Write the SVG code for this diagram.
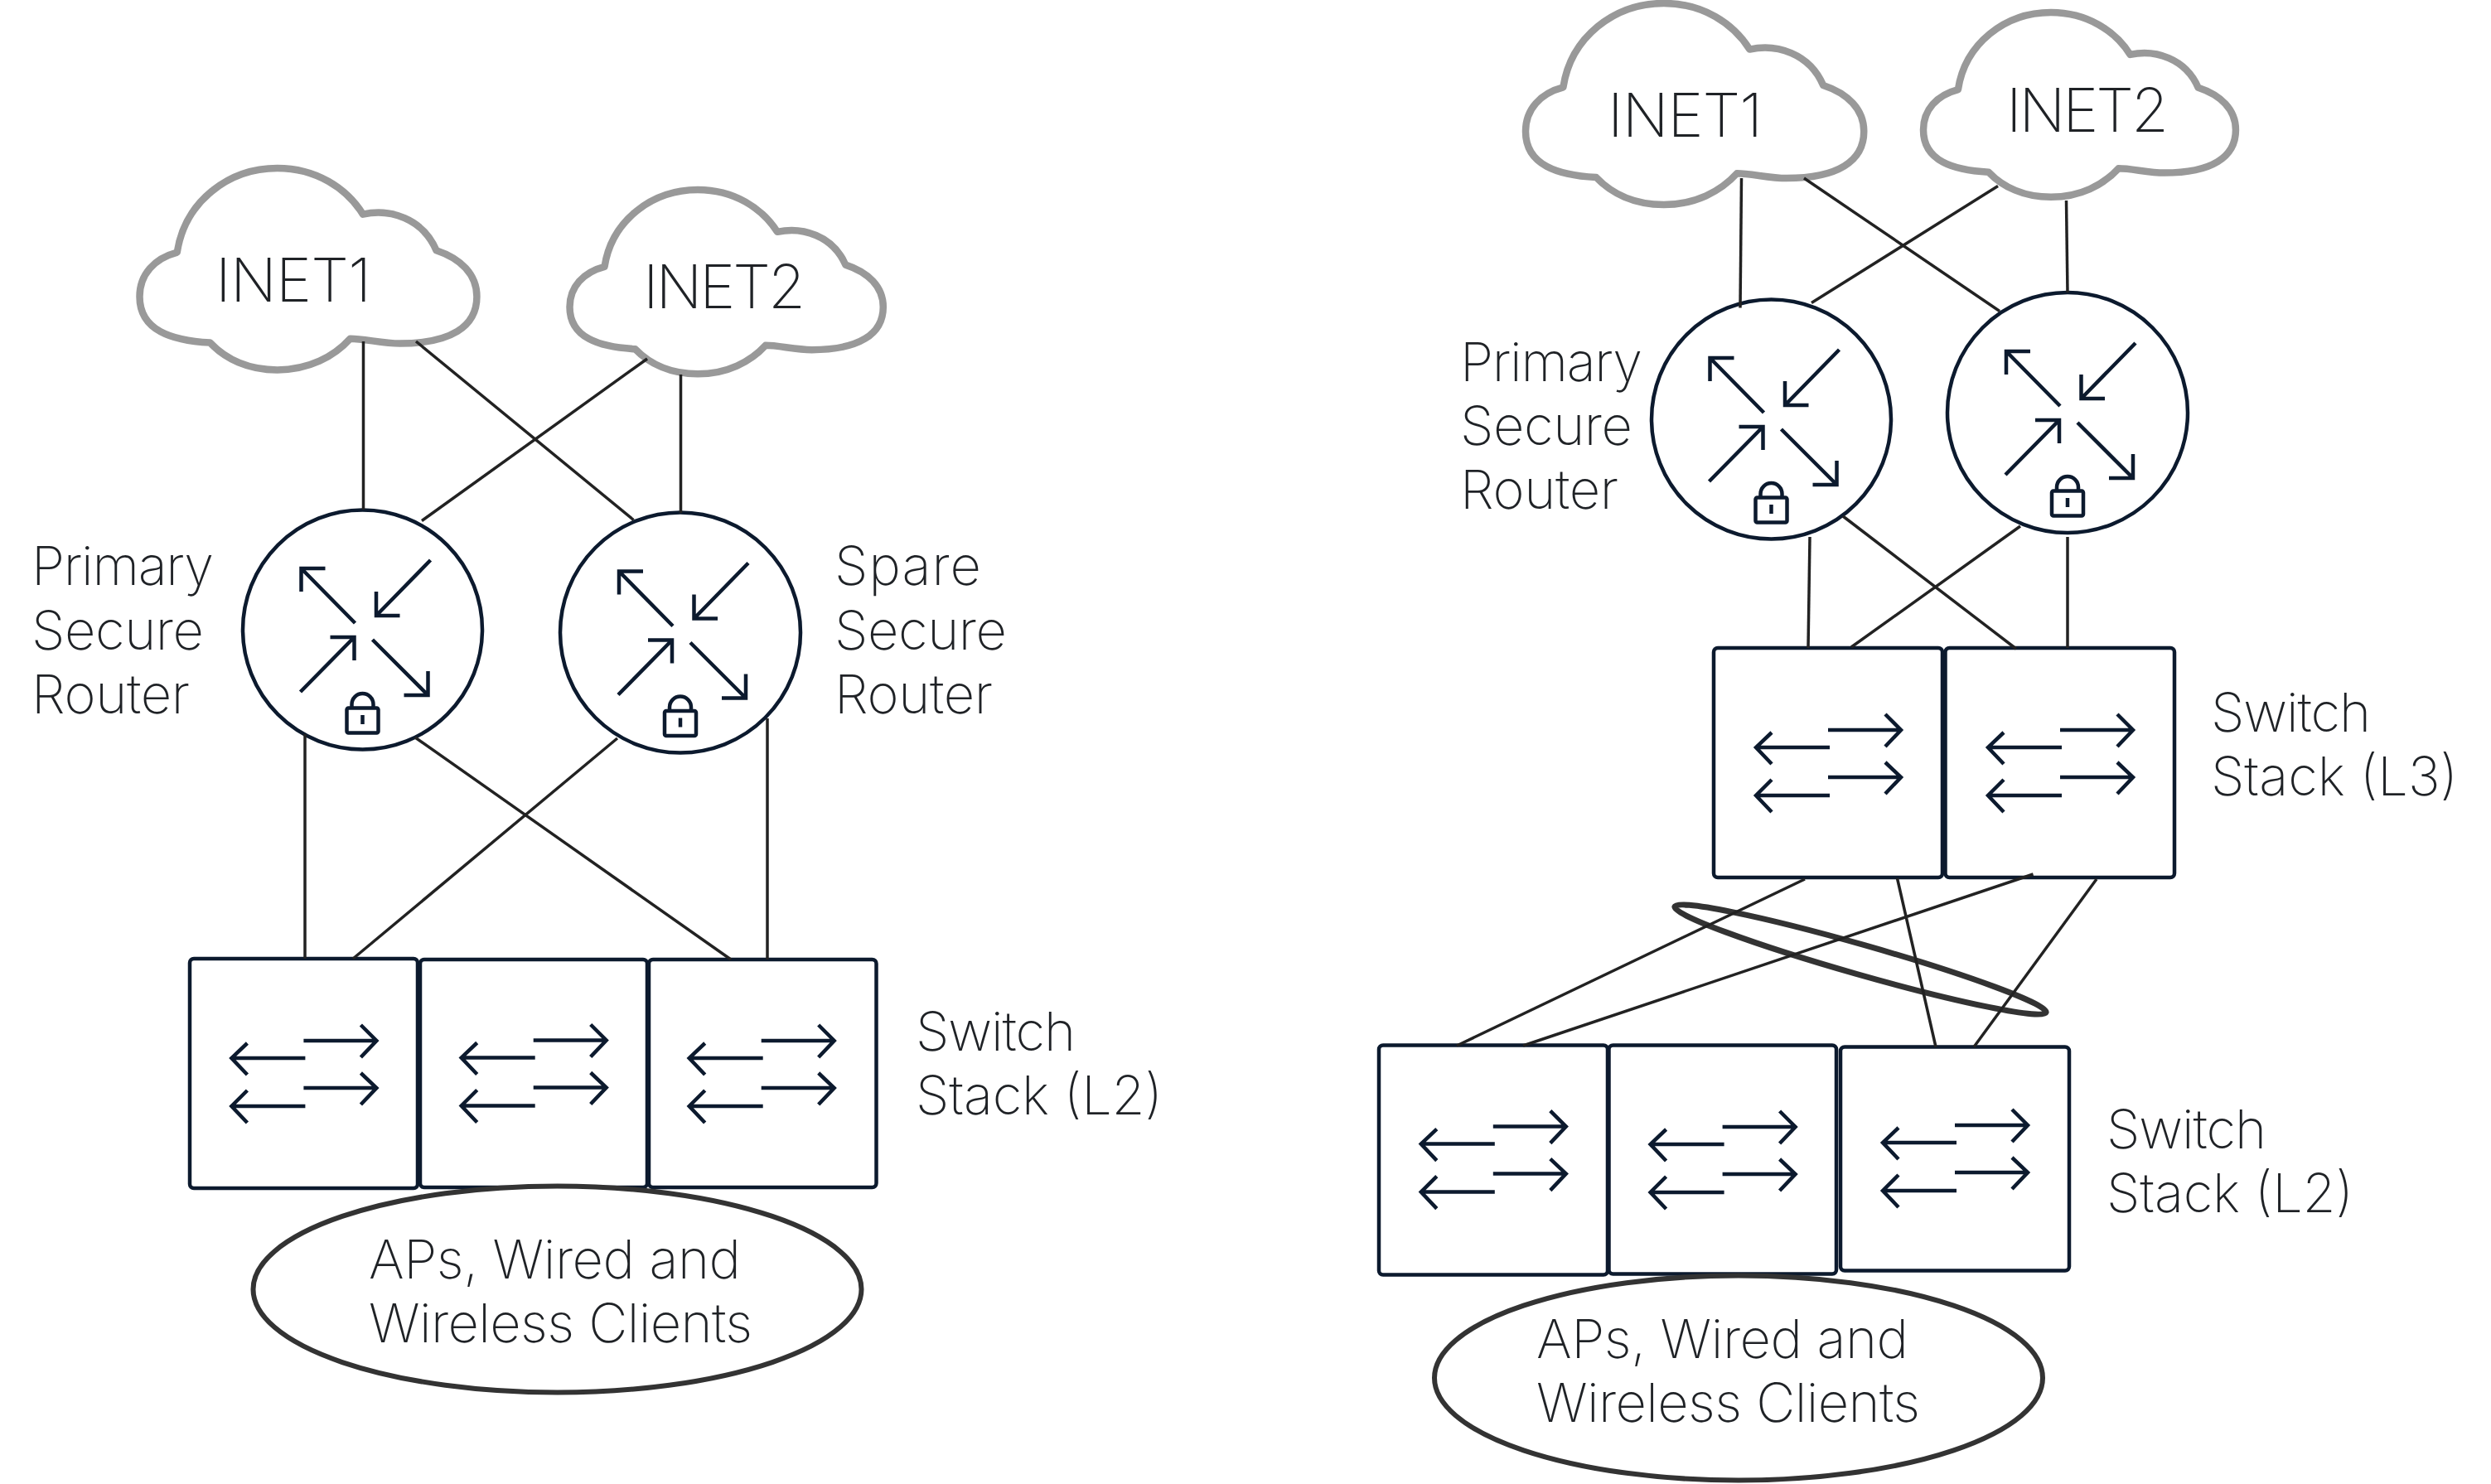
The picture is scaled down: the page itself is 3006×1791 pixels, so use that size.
<svg xmlns="http://www.w3.org/2000/svg" width="3006" height="1791" viewBox="0 0 3006 1791">
<style>
text{font-family:"Inter","Roboto","Liberation Sans",sans-serif;font-weight:250;font-size:65px;fill:#1f2226}
.big{font-size:73px}
.cloud{fill:#fff;stroke:#999;stroke-width:8.500;stroke-linejoin:round;vector-effect:non-scaling-stroke}
.rt{fill:#fff;stroke:#0c1a2e;stroke-width:4.500}
.sw{fill:#fff;stroke:#0c1a2e;stroke-width:4.500}
.ic{fill:none;stroke:#0c1a2e;stroke-width:4.500}
.ell{fill:#fff;stroke:#333;stroke-width:6}
.lag{fill:none;stroke:#333;stroke-width:7}
.cn line{stroke:#222;stroke-width:3.500}
</style>
<defs>
<path id="cloudp" class="cloud" d="M120 255C135 130 220 45 318 45C395 45 455 95 487 160C540 145 605 170 632 250C680 270 712 310 712 365C712 440 660 482 560 482C525 482 490 470 462 470C430 515 380 548 318 548C260 548 215 520 185 480C110 475 46 450 46 365C46 310 75 270 120 255Z"/>
<g id="routerIcon" class="ic">
<path d="M-9-8L-74-74M-74-46V-74H-45"/>
<path d="M82-84L16.500-17M16.500-46V-17H45"/>
<path d="M-75 75L-10 9M-39 9H-10V37"/>
<path d="M12 12L79 79M79 50V79H50"/>
<rect x="-19" y="94.500" width="38" height="30" rx="2"/>
<path d="M-13 94.500V90A13 13 0 0 1 13 90V94.500M0 103V114"/>
</g>
<g id="switchIcon" class="ic">
<path d="M0-40H88M69-59L88-40L69-20"/>
<path d="M2-19H-87M-68-37L-87-19L-68 1"/>
<path d="M0 17H88M69-1L88 17L69 37"/>
<path d="M2 39H-87M-68 20L-87 39L-68 59"/>
</g>
</defs>
<rect width="3006" height="1791" fill="#fff"/>

<g id="left-inet1"><use href="#cloudp" transform="translate(168.500 203) scale(0.611 0.484) translate(-46 -45)"/><text x="260" y="364" class="big" textLength="188">INET1</text></g>
<g id="left-inet2"><use href="#cloudp" transform="translate(687.500 229) scale(0.568 0.442) translate(-46 -45)"/><text x="776" y="372" class="big" textLength="196">INET2</text></g>
<g id="left-router1"><circle class="rt" cx="437.500" cy="760" r="144.500"/><use href="#routerIcon" x="437.500" y="760"/><text x="38" y="706" textLength="220">Primary</text><text x="38" y="784" textLength="208">Secure</text><text x="38" y="861" textLength="191">Router</text></g>
<g id="left-router2"><circle class="rt" cx="821" cy="763.500" r="145"/><use href="#routerIcon" x="821" y="763.500"/><text x="1007" y="706" textLength="177">Spare</text><text x="1007" y="784" textLength="208">Secure</text><text x="1007" y="861" textLength="191">Router</text></g>
<g id="left-switch1"><rect class="sw" x="229" y="1157" width="275" height="277" rx="5"/><use href="#switchIcon" x="366.400" y="1296"/></g>
<g id="left-switch2"><rect class="sw" x="507" y="1158" width="274" height="275" rx="5"/><use href="#switchIcon" x="643.700" y="1295.500"/></g>
<g id="left-switch3"><rect class="sw" x="783" y="1158" width="274.500" height="275" rx="5"/><use href="#switchIcon" x="918.700" y="1296"/></g>
<g id="left-l2-label"><text x="1105" y="1268" textLength="193">Switch</text><text x="1105" y="1345" textLength="298">Stack (L2)</text></g>
<g id="left-clients"><ellipse class="ell" cx="672.500" cy="1556" rx="367" ry="124.500"/><text x="445" y="1543" textLength="449">APs, Wired and</text><text x="445" y="1620" textLength="463">Wireless Clients</text></g>

<g id="right-inet1"><use href="#cloudp" transform="translate(1841 4) scale(0.613 0.483) translate(-46 -45)"/><text x="1940" y="165" class="big" textLength="187">INET1</text></g>
<g id="right-inet2"><use href="#cloudp" transform="translate(2321 15) scale(0.566 0.443) translate(-46 -45)"/><text x="2421" y="159" class="big" textLength="196">INET2</text></g>
<g id="right-router1"><circle class="rt" cx="2137.500" cy="506" r="144.500"/><use href="#routerIcon" x="2137.500" y="506"/><text x="1762" y="460" textLength="220">Primary</text><text x="1762" y="537" textLength="208">Secure</text><text x="1762" y="614" textLength="191">Router</text></g>
<g id="right-router2"><circle class="rt" cx="2495" cy="498" r="145"/><use href="#routerIcon" x="2495" y="498"/></g>
<g id="right-l3-switch1"><rect class="sw" x="2068" y="782" width="276" height="277" rx="5"/><use href="#switchIcon" x="2206" y="921"/></g>
<g id="right-l3-switch2"><rect class="sw" x="2347.500" y="782" width="276.500" height="277" rx="5"/><use href="#switchIcon" x="2486" y="921"/></g>
<g id="right-l3-label"><text x="2668" y="883" textLength="193">Switch</text><text x="2668" y="960" textLength="298">Stack (L3)</text></g>
<ellipse id="right-lag" class="lag" cx="2245" cy="1158" rx="233" ry="18" transform="rotate(15.900 2245 1158)"/>
<g id="right-l2-switch1"><rect class="sw" x="1664" y="1261.500" width="276" height="277" rx="5"/><use href="#switchIcon" x="1801.800" y="1399.600"/></g>
<g id="right-l2-switch2"><rect class="sw" x="1941.500" y="1261.500" width="274.500" height="276" rx="5"/><use href="#switchIcon" x="2078.600" y="1400"/></g>
<g id="right-l2-switch3"><rect class="sw" x="2221" y="1263.500" width="276" height="270" rx="5"/><use href="#switchIcon" x="2359" y="1398"/></g>
<g id="right-l2-label"><text x="2542" y="1386" textLength="193">Switch</text><text x="2542" y="1463" textLength="298">Stack (L2)</text></g>
<g id="right-clients"><ellipse class="ell" cx="2098" cy="1663" rx="367" ry="123.500"/><text x="1854" y="1639" textLength="449">APs, Wired and</text><text x="1854" y="1716" textLength="463">Wireless Clients</text></g>

<g id="connectors" class="cn">
<line x1="438.500" y1="412" x2="438.500" y2="615"/>
<line x1="502" y1="412" x2="764.500" y2="627.500"/>
<line x1="781" y1="433" x2="509" y2="628.500"/>
<line x1="821.500" y1="452" x2="821.500" y2="619"/>
<line x1="368" y1="886" x2="368" y2="1157"/>
<line x1="501" y1="890" x2="882" y2="1158"/>
<line x1="745" y1="891" x2="426" y2="1157"/>
<line x1="926" y1="867" x2="926" y2="1158"/>
<line x1="2101.500" y1="215" x2="2100" y2="371.500"/>
<line x1="2177" y1="215" x2="2413" y2="375.500"/>
<line x1="2411" y1="224.500" x2="2186" y2="365.500"/>
<line x1="2493.500" y1="242" x2="2495" y2="353"/>
<line x1="2184" y1="648" x2="2182" y2="782"/>
<line x1="2224" y1="623" x2="2433" y2="783"/>
<line x1="2438" y1="635" x2="2234" y2="781"/>
<line x1="2495" y1="648" x2="2495" y2="782"/>
<line x1="2178" y1="1061" x2="1758" y2="1262"/>
<line x1="2453.500" y1="1055" x2="1838" y2="1262"/>
<line x1="2289.500" y1="1060" x2="2336" y2="1263.500"/>
<line x1="2530" y1="1061" x2="2382" y2="1263.500"/>
</g>
</svg>
